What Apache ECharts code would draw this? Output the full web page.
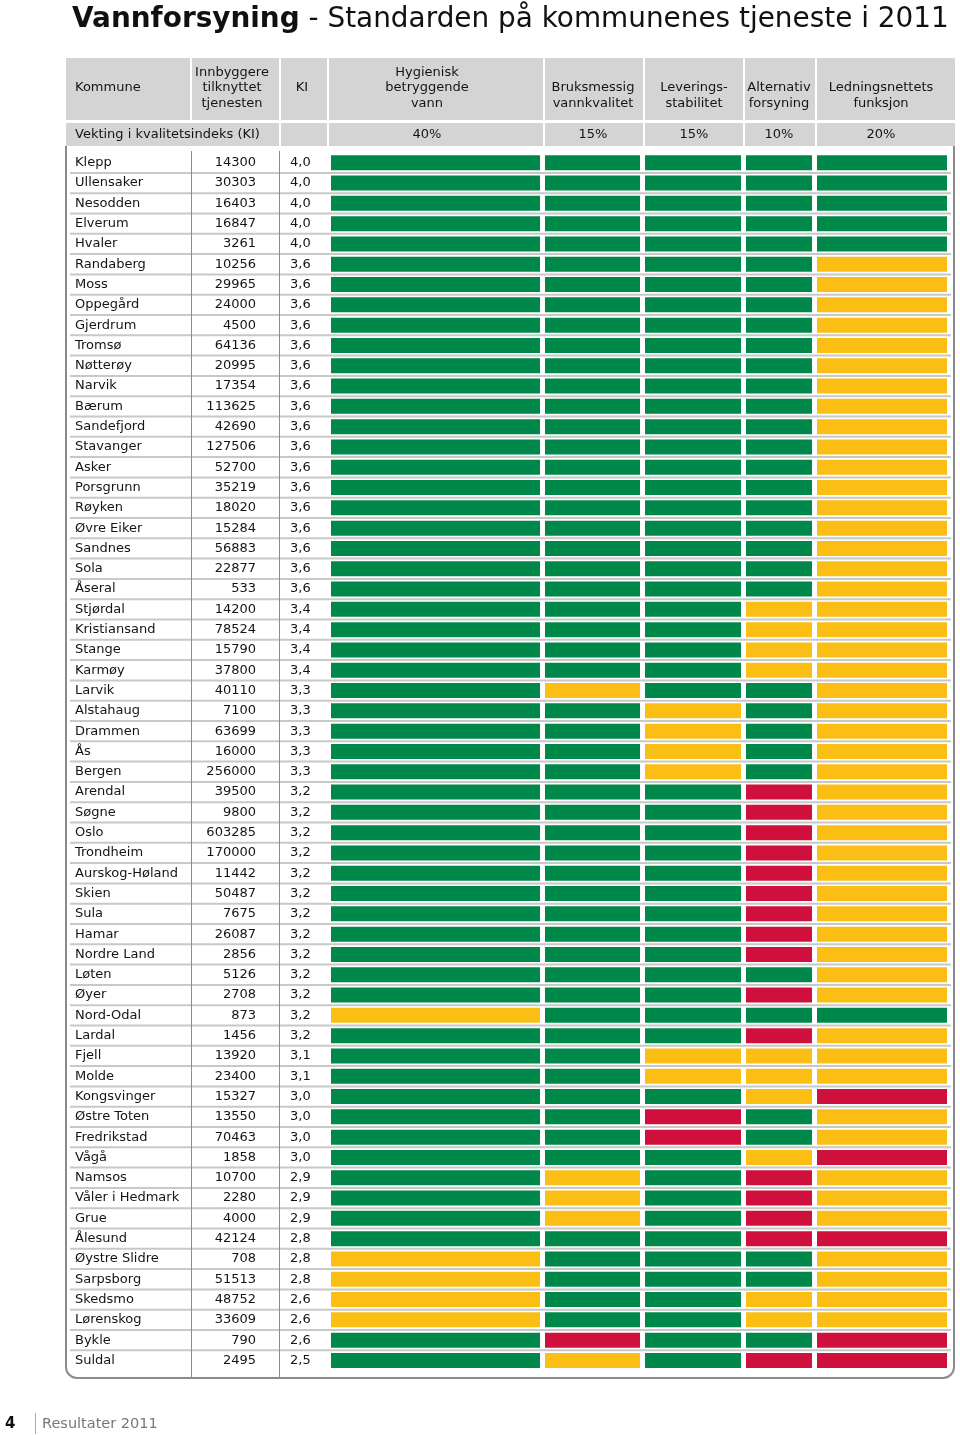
<!DOCTYPE html>
<html><head><meta charset="utf-8">
<script src="https://cdn.jsdelivr.net/npm/echarts@6/dist/echarts.min.js"></script>
<style>html,body{margin:0;padding:0;background:#fff}#c{width:960px;height:1435px}</style>
</head><body><div id="c"></div>
<script>
// ---------- DATA ----------
const names = ['Klepp','Ullensaker','Nesodden','Elverum','Hvaler','Randaberg','Moss','Oppegård','Gjerdrum','Tromsø',
  'Nøtterøy','Narvik','Bærum','Sandefjord','Stavanger','Asker','Porsgrunn','Røyken','Øvre Eiker','Sandnes',
  'Sola','Åseral','Stjørdal','Kristiansand','Stange','Karmøy','Larvik','Alstahaug','Drammen','Ås',
  'Bergen','Arendal','Søgne','Oslo','Trondheim','Aurskog-Høland','Skien','Sula','Hamar','Nordre Land',
  'Løten','Øyer','Nord-Odal','Lardal','Fjell','Molde','Kongsvinger','Østre Toten','Fredrikstad','Vågå',
  'Namsos','Våler i Hedmark','Grue','Ålesund','Øystre Slidre','Sarpsborg','Skedsmo','Lørenskog','Bykle','Suldal'];
const population = [14300,30303,16403,16847,3261,10256,29965,24000,4500,64136,
  20995,17354,113625,42690,127506,52700,35219,18020,15284,56883,
  22877,533,14200,78524,15790,37800,40110,7100,63699,16000,
  256000,39500,9800,603285,170000,11442,50487,7675,26087,2856,
  5126,2708,873,1456,13920,23400,15327,13550,70463,1858,
  10700,2280,4000,42124,708,51513,48752,33609,790,2495];
const ki = [4.0,4.0,4.0,4.0,4.0,3.6,3.6,3.6,3.6,3.6,
  3.6,3.6,3.6,3.6,3.6,3.6,3.6,3.6,3.6,3.6,
  3.6,3.6,3.4,3.4,3.4,3.4,3.3,3.3,3.3,3.3,
  3.3,3.2,3.2,3.2,3.2,3.2,3.2,3.2,3.2,3.2,
  3.2,3.2,3.2,3.2,3.1,3.1,3.0,3.0,3.0,3.0,
  2.9,2.9,2.9,2.8,2.8,2.8,2.6,2.6,2.6,2.5];
// G = green, Y = yellow, R = red
const hygienisk = ['G','G','G','G','G','G','G','G','G','G',
  'G','G','G','G','G','G','G','G','G','G',
  'G','G','G','G','G','G','G','G','G','G',
  'G','G','G','G','G','G','G','G','G','G',
  'G','G','Y','G','G','G','G','G','G','G',
  'G','G','G','G','Y','Y','Y','Y','G','G'];
const bruksmessig = ['G','G','G','G','G','G','G','G','G','G',
  'G','G','G','G','G','G','G','G','G','G',
  'G','G','G','G','G','G','Y','G','G','G',
  'G','G','G','G','G','G','G','G','G','G',
  'G','G','G','G','G','G','G','G','G','G',
  'Y','Y','Y','G','G','G','G','G','R','Y'];
const leveringsstabilitet = ['G','G','G','G','G','G','G','G','G','G',
  'G','G','G','G','G','G','G','G','G','G',
  'G','G','G','G','G','G','G','Y','Y','Y',
  'Y','G','G','G','G','G','G','G','G','G',
  'G','G','G','G','Y','Y','G','R','R','G',
  'G','G','G','G','G','G','G','G','G','G'];
const alternativ = ['G','G','G','G','G','G','G','G','G','G',
  'G','G','G','G','G','G','G','G','G','G',
  'G','G','Y','Y','Y','Y','G','G','G','G',
  'G','R','R','R','R','R','R','R','R','R',
  'G','R','G','R','Y','Y','Y','G','G','Y',
  'R','R','R','R','G','G','Y','Y','G','R'];
const ledningsnett = ['G','G','G','G','G','Y','Y','Y','Y','Y',
  'Y','Y','Y','Y','Y','Y','Y','Y','Y','Y',
  'Y','Y','Y','Y','Y','Y','Y','Y','Y','Y',
  'Y','Y','Y','Y','Y','Y','Y','Y','Y','Y',
  'Y','Y','G','Y','Y','Y','R','Y','Y','R',
  'Y','Y','Y','R','Y','Y','Y','Y','R','R'];
const headerLabels = ['Kommune','Innbyggere\ntilknyttet\ntjenesten','KI','Hygienisk\nbetryggende\nvann',
  'Bruksmessig\nvannkvalitet','Leverings-\nstabilitet','Alternativ\nforsyning','Ledningsnettets\nfunksjon'];
const weightLabel = 'Vekting i kvalitetsindeks (KI)';
const weights = ['40%','15%','15%','10%','20%'];
const titleBold = 'Vannforsyning';
const titleRest = ' - Standarden på kommunenes tjeneste i 2011';
const footerPage = '4';
const footerText = 'Resultater 2011';

// ---------- LAYOUT / STYLE ----------
const FONT = 'DejaVu Sans';
const colorOf = {G:'#00884b', Y:'#fbbe14', R:'#d0103c'};
const GRAY = '#d4d4d4';
const TEXT = '#141414';
const BORDER = '#8c8c8c';
const ROWH = 20.3;
const TOP = 152.6;
const H = ROWH * names.length;
const ratingCols = [hygienisk, bruksmessig, leveringsstabilitet, alternativ, ledningsnett];
const colRanges = [[331,540],[545,640],[645,741],[746,812],[817,947]];
const headerCells = [[66,190],[192,279],[281,327],[329,543],[545,643],[645,743],[745,815],[817,955]];
const headerCenters = [75,232,302,427,593,694,779,881];

const chart = echarts.init(document.getElementById('c'), null, {renderer:'canvas'});

const grid = [
  {left:66, top:TOP, width:889, height:H},
  {left:191, top:TOP, width:65, height:H},
  {left:280, top:TOP, width:40, height:H}
];
colRanges.forEach(r => grid.push({left:r[0], top:TOP, width:r[1]-r[0], height:H}));

const xAxis = [], yAxis = [];
for (let g = 0; g < grid.length; g++) {
  if (g < 3) xAxis.push({gridIndex:g, type:'value', min:0, max:1, show:false});
  else xAxis.push({gridIndex:g, type:'category', data:['x'], show:false});
}
const baseY = {type:'category', data:names, inverse:true, axisLine:{show:false}, axisTick:{show:false}, splitLine:{show:false}};
const lab = {fontFamily:FONT, fontSize:13, color:TEXT, interval:0, inside:true};
yAxis.push(Object.assign({}, baseY, {gridIndex:0, position:'left', axisLabel:Object.assign({}, lab, {margin:9})}));
yAxis.push(Object.assign({}, baseY, {gridIndex:1, position:'right',
  axisLabel:Object.assign({}, lab, {margin:0, formatter:(v,i)=>String(population[i])})}));
yAxis.push(Object.assign({}, baseY, {gridIndex:2, position:'left',
  axisLabel:Object.assign({}, lab, {margin:10, formatter:(v,i)=>ki[i].toFixed(1).replace('.',',')})}));
for (let g = 3; g < grid.length; g++) yAxis.push(Object.assign({}, baseY, {gridIndex:g, show:false}));

const series = [];
series.push({
  type:'custom', xAxisIndex:0, yAxisIndex:0, z:1, silent:true,
  data: names.slice(0, -1).map((n,i)=>[0,i]),
  renderItem:(params, api) => {
    const p = api.coord([0, api.value(1)]);
    const s = api.size([0, 1]);
    const y = p[1] + s[1]/2;
    const cs = params.coordSys;
    return {type:'line', shape:{x1:cs.x+4, y1:y, x2:cs.x+cs.width-4, y2:y}, style:{stroke:'#c8c8c8', lineWidth:2}};
  }
});
ratingCols.forEach((col, k) => {
  series.push({
    type:'custom', xAxisIndex:k+3, yAxisIndex:k+3, z:3, silent:true,
    data: col.map((c,i)=>({value:[0,i], itemStyle:{color:colorOf[c]}})),
    renderItem:(params, api) => {
      const p = api.coord([0, api.value(1)]);
      const s = api.size([1, 1]);
      return {type:'rect', shape:{x:p[0]-s[0]/2, y:p[1]-7.5, width:s[0], height:15}, style:{fill:api.visual('color')}};
    }
  });
});

// header graphics
const graphic = [];
headerCells.forEach((c,i) => {
  graphic.push({type:'rect', z:0, shape:{x:c[0], y:58, width:c[1]-c[0], height:62}, style:{fill:GRAY}});
  const multi = headerLabels[i].indexOf('\n') >= 0;
  graphic.push({type:'text', z:2, x:headerCenters[i], y: multi ? 111 : 88, style:{text:headerLabels[i], fill:TEXT,
    font:'13px "'+FONT+'"', align: i===0?'left':'center', verticalAlign: multi ? 'bottom' : 'middle', lineHeight:15.5}});
});
// weighting row
const wCells = [[66,279],[281,327],[329,543],[545,643],[645,743],[745,815],[817,955]];
wCells.forEach(c => graphic.push({type:'rect', z:0, shape:{x:c[0], y:123, width:c[1]-c[0], height:23}, style:{fill:GRAY}}));
graphic.push({type:'text', z:2, x:75, y:134.5, style:{text:weightLabel, fill:TEXT, font:'13px "'+FONT+'"', align:'left', verticalAlign:'middle'}});
weights.forEach((w,i) => graphic.push({type:'text', z:2, x:headerCenters[i+3], y:134.5,
  style:{text:w, fill:TEXT, font:'13px "'+FONT+'"', align:'center', verticalAlign:'middle'}}));
// body box (left, bottom with rounded corners, right) and column separators
const R = 11;
graphic.push({type:'line', z:5, shape:{x1:66, y1:146, x2:66, y2:1378-R}, style:{stroke:BORDER, lineWidth:2}});
graphic.push({type:'arc', z:5, shape:{cx:66+R, cy:1378-R, r:R, startAngle:Math.PI/2, endAngle:Math.PI, clockwise:true}, style:{stroke:BORDER, lineWidth:2, fill:null}});
graphic.push({type:'line', z:5, shape:{x1:66+R, y1:1378, x2:954-R, y2:1378}, style:{stroke:BORDER, lineWidth:2}});
graphic.push({type:'arc', z:5, shape:{cx:954-R, cy:1378-R, r:R, startAngle:0, endAngle:Math.PI/2, clockwise:true}, style:{stroke:BORDER, lineWidth:2, fill:null}});
graphic.push({type:'line', z:5, shape:{x1:954, y1:146, x2:954, y2:1378-R}, style:{stroke:BORDER, lineWidth:2}});
[191,279].forEach(x => graphic.push({type:'line', z:5, shape:{x1:x+0.5, y1:151, x2:x+0.5, y2:1377}, style:{stroke:BORDER, lineWidth:1}}));
// title
graphic.push({type:'text', z:5, x:72, y:20, style:{
  text:'{b|'+titleBold+'}{n|'+titleRest+'}', verticalAlign:'middle', align:'left',
  rich:{b:{font:'bold 27.9px "'+FONT+'"', fill:'#111'}, n:{font:'27.9px "'+FONT+'"', fill:'#111'}}}});
// footer
graphic.push({type:'text', z:5, x:5, y:1424, style:{text:footerPage, fill:'#111', font:'bold 15px "'+FONT+'"', verticalAlign:'middle'}});
graphic.push({type:'line', z:5, shape:{x1:35.5, y1:1413, x2:35.5, y2:1434}, style:{stroke:'#aaaaaa', lineWidth:1}});
graphic.push({type:'text', z:5, x:42, y:1424, style:{text:footerText, fill:'#777', font:'14.5px "'+FONT+'"', verticalAlign:'middle'}});

chart.setOption({
  animation:false,
  backgroundColor:'#fff',
  textStyle:{fontFamily:FONT},
  grid, xAxis, yAxis, series, graphic
});
</script></body></html>
